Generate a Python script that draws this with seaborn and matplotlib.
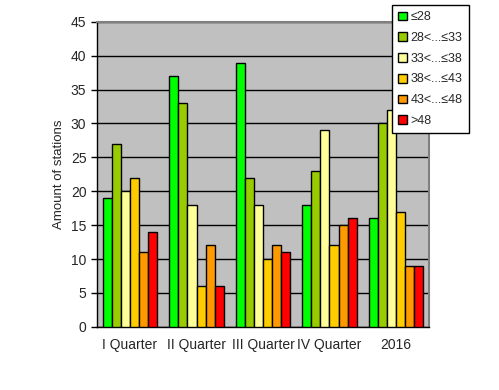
import matplotlib
matplotlib.use("Agg")
import matplotlib.pyplot as plt
import numpy as np
import pandas as pd
import seaborn as sns

# --- Data ---
periods = ["I Quarter", "II Quarter", "III Quarter", "IV Quarter", "2016"]
classes = ["≤28", "28<...≤33", "33<...≤38", "38<...≤43", "43<...≤48", ">48"]
le28 = [19, 37, 39, 18, 16]
c28_33 = [27, 33, 22, 23, 30]
c33_38 = [20, 18, 18, 29, 32]
c38_43 = [22, 6, 10, 12, 17]
c43_48 = [11, 12, 12, 15, 9]
gt48 = [14, 6, 11, 16, 9]
colors = ["#00FF00", "#99CC00", "#FFFF99", "#FFCC00", "#FF9900", "#FF0000"]

series = [le28, c28_33, c33_38, c38_43, c43_48, gt48]
rows = []
for cls, vals in zip(classes, series):
    for p, v in zip(periods, vals):
        rows.append({"period": p, "class": cls, "value": v})
df = pd.DataFrame(rows)

sns.set_style("white")
plt.rcParams["font.family"] = ["Liberation Sans", "DejaVu Sans"]

fig = plt.figure(figsize=(4.99, 3.9), dpi=100)
ax = fig.add_axes([0.194, 0.162, 0.666, 0.782])
ax.set_facecolor("#C0C0C0")

sns.barplot(
    data=df, x="period", y="value", hue="class",
    order=periods, hue_order=classes, palette=colors, saturation=1,
    width=0.82, gap=0, edgecolor="black", linewidth=1,
    ax=ax, zorder=3, legend=True,
)

ax.set_ylim(0, 45)
ax.set_yticks(np.arange(0, 46, 5))
ax.set_xlim(-0.5, len(periods) - 0.5)
ax.yaxis.grid(True, color="black", linewidth=1, zorder=1)
ax.set_axisbelow(True)
ax.set_xlabel("")
ax.set_ylabel("Amount of stations", fontsize=9.5, labelpad=4)

# ticks between categories
ax.set_xticks(np.arange(-0.5, len(periods), 1), minor=True)
ax.tick_params(axis="x", which="major", length=0, labelsize=10, pad=8)
ax.tick_params(axis="x", which="minor", length=4, width=1, color="black", direction="out")
ax.tick_params(axis="y", length=4, width=1, color="black", direction="out", labelsize=10, left=True)

for side in ["left", "bottom"]:
    ax.spines[side].set_color("black")
    ax.spines[side].set_linewidth(1)
for side in ["top", "right"]:
    ax.spines[side].set_color("#808080")
    ax.spines[side].set_linewidth(1.5)

handles, labels = ax.get_legend_handles_labels()
ax.get_legend().remove()
leg = fig.legend(
    handles, labels, loc="upper left", bbox_to_anchor=(392 / 499, 1 - 5 / 390),
    frameon=True, fancybox=False, edgecolor="black", framealpha=1,
    fontsize=9, handlelength=0.7, handleheight=0.7, handletextpad=0.3,
    labelspacing=0.7, borderpad=0.5, borderaxespad=0,
)
leg.get_frame().set_linewidth(1)

fig.savefig("out.png", dpi=100)
